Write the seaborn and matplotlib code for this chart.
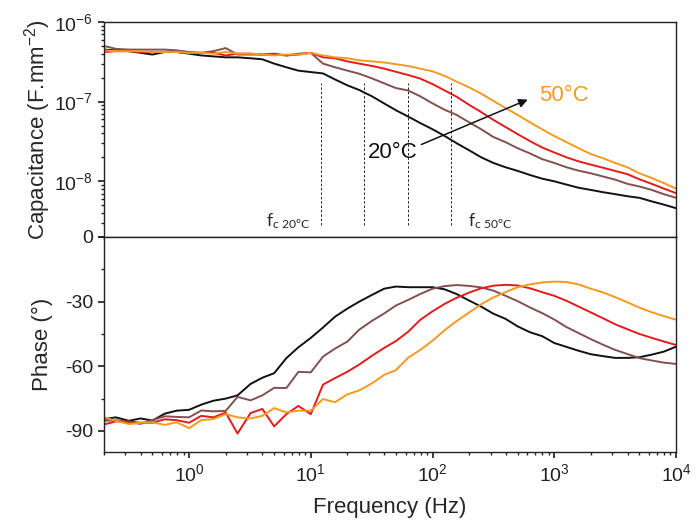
import numpy as np
import pandas as pd
import seaborn as sns
import matplotlib.pyplot as plt
import matplotlib.ticker as mticker

#%% data
freq_hz = [0.2, 0.25, 0.32, 0.4, 0.5, 0.63, 0.79, 1.0, 1.26, 1.58,
           2.0, 2.5, 3.2, 4.0, 5.0, 6.3, 7.9, 10, 12.6, 15.8,
           20, 25, 32, 40, 50, 63, 79, 100, 126, 158,
           200, 251, 316, 398, 501, 631, 794, 1000, 1259, 1585,
           1995, 2512, 3162, 3981, 5012, 6310, 7943, 10000]

temps = ["20°C", "30°C", "40°C", "50°C"]

# capacitance, F/mm^2
cap_20 = [4.5e-7, 4.4e-7, 4.3e-7, 4.1e-7, 3.9e-7, 4.2e-7, 4.2e-7, 4.0e-7, 3.8e-7, 3.7e-7,
          3.6e-7, 3.6e-7, 3.5e-7, 3.4e-7, 3.0e-7, 2.7e-7, 2.45e-7, 2.35e-7, 2.26e-7, 1.9e-7,
          1.6e-7, 1.4e-7, 1.16e-7, 9.5e-8, 7.8e-8, 6.5e-8, 5.4e-8, 4.5e-8, 3.7e-8, 3.0e-8,
          2.45e-8, 2.0e-8, 1.7e-8, 1.5e-8, 1.35e-8, 1.2e-8, 1.08e-8, 1.0e-8, 9.1e-9, 8.3e-9,
          7.8e-9, 7.3e-9, 6.9e-9, 6.5e-9, 6.2e-9, 5.6e-9, 5.1e-9, 4.6e-9]
cap_30 = [5.0e-7, 4.6e-7, 4.5e-7, 4.5e-7, 4.5e-7, 4.5e-7, 4.4e-7, 4.2e-7, 4.1e-7, 4.3e-7,
          4.7e-7, 3.9e-7, 3.9e-7, 3.9e-7, 3.9e-7, 3.8e-7, 4.0e-7, 4.1e-7, 3.0e-7, 2.7e-7,
          2.45e-7, 2.24e-7, 1.95e-7, 1.7e-7, 1.48e-7, 1.38e-7, 1.17e-7, 9.5e-8, 7.9e-8, 6.8e-8,
          5.5e-8, 4.5e-8, 3.6e-8, 3.1e-8, 2.6e-8, 2.24e-8, 1.9e-8, 1.7e-8, 1.5e-8, 1.36e-8,
          1.26e-8, 1.15e-8, 1.05e-8, 9.3e-9, 8.6e-9, 7.8e-9, 6.9e-9, 6.2e-9]
cap_40 = [4.2e-7, 4.3e-7, 4.3e-7, 4.2e-7, 4.2e-7, 4.2e-7, 4.2e-7, 4.1e-7, 4.1e-7, 4.1e-7,
          3.8e-7, 4.0e-7, 4.0e-7, 3.9e-7, 4.0e-7, 3.8e-7, 3.9e-7, 4.1e-7, 3.6e-7, 3.5e-7,
          3.2e-7, 3.0e-7, 2.8e-7, 2.6e-7, 2.37e-7, 2.16e-7, 1.95e-7, 1.66e-7, 1.38e-7, 1.15e-7,
          9.1e-8, 7.4e-8, 5.9e-8, 4.8e-8, 3.9e-8, 3.2e-8, 2.66e-8, 2.3e-8, 2.0e-8, 1.78e-8,
          1.62e-8, 1.48e-8, 1.35e-8, 1.23e-8, 1.06e-8, 9.3e-9, 8.1e-9, 7.1e-9]
cap_50 = [4.4e-7, 4.3e-7, 4.3e-7, 4.3e-7, 4.2e-7, 4.2e-7, 4.2e-7, 4.1e-7, 4.1e-7, 4.0e-7,
          4.2e-7, 4.0e-7, 4.0e-7, 3.9e-7, 3.8e-7, 3.9e-7, 3.9e-7, 4.1e-7, 3.8e-7, 3.6e-7,
          3.5e-7, 3.3e-7, 3.2e-7, 3.1e-7, 2.95e-7, 2.8e-7, 2.6e-7, 2.4e-7, 2.1e-7, 1.78e-7,
          1.51e-7, 1.26e-7, 1.02e-7, 8.3e-8, 6.8e-8, 5.5e-8, 4.5e-8, 3.7e-8, 3.1e-8, 2.6e-8,
          2.2e-8, 1.95e-8, 1.7e-8, 1.5e-8, 1.26e-8, 1.1e-8, 9.5e-9, 8.1e-9]

# phase, degrees
phase_20 = [-84.5, -83.7, -85.3, -84.2, -85.2, -82.0, -80.6, -80.2, -77.8, -76.0,
            -75.0, -73.5, -68.2, -65.3, -63.2, -56.2, -51.2, -46.8, -42.0, -37.0,
            -33.2, -30.0, -26.8, -24.0, -23.0, -23.3, -23.3, -23.3, -24.3, -26.5,
            -29.5, -32.3, -35.6, -38.0, -41.5, -44.2, -46.0, -49.2, -51.0, -52.8,
            -54.4, -55.3, -56.1, -56.1, -55.8, -54.6, -53.2, -50.9]
phase_30 = [-85.3, -85.0, -86.0, -86.7, -85.0, -83.2, -83.5, -83.7, -80.5, -80.9,
            -80.7, -74.2, -75.8, -73.5, -70.0, -70.1, -62.6, -62.8, -55.5, -51.8,
            -48.5, -43.0, -38.8, -35.5, -31.8, -29.2, -26.5, -24.0, -22.8, -22.3,
            -22.7, -23.4, -24.9, -27.3, -29.8, -32.7, -35.3, -38.3, -41.8, -44.6,
            -47.4, -50.0, -52.4, -54.3, -56.2, -57.3, -58.3, -58.9]
phase_40 = [-87.0, -85.6, -85.6, -86.2, -86.2, -84.6, -85.0, -86.2, -83.0, -83.7,
            -81.5, -91.2, -81.7, -79.8, -87.9, -82.2, -78.4, -82.2, -68.5, -65.5,
            -62.5, -59.2, -55.0, -51.5, -48.3, -44.0, -38.5, -34.5, -31.0, -28.2,
            -25.8, -23.8, -22.6, -22.2, -22.5, -23.8, -25.6, -27.3, -29.6, -32.3,
            -35.0, -37.7, -40.5, -42.8, -45.0, -46.8, -48.5, -50.1]
phase_50 = [-83.7, -85.3, -86.8, -86.2, -86.0, -87.2, -86.0, -88.7, -85.0, -84.5,
            -82.2, -83.7, -84.2, -83.0, -79.4, -81.4, -80.6, -80.6, -75.2, -76.7,
            -73.0, -71.2, -67.8, -64.0, -61.8, -56.0, -52.5, -48.1, -43.2, -39.0,
            -35.0, -31.2, -28.0, -25.6, -23.3, -22.0, -21.1, -20.7, -20.9, -22.0,
            -24.0, -25.7, -27.9, -30.3, -32.8, -34.9, -36.7, -38.4]

fc_freqs = [12.2, 27.6, 62.5, 141]   # dashed cut-off markers

colors = {"20°C": "#111111", "30°C": "#82504f", "40°C": "#e31b1b", "50°C": "#f39a1f"}

frames = []
for t, c, p in zip(temps, [cap_20, cap_30, cap_40, cap_50],
                   [phase_20, phase_30, phase_40, phase_50]):
    frames.append(pd.DataFrame({"freq": freq_hz, "cap": c, "phase": p, "temp": t}))
df = pd.concat(frames, ignore_index=True)

#%% style
sns.set_theme(style="ticks")
plt.rcParams.update({
    "font.family": ["Liberation Sans"],
    "mathtext.fontset": "custom",
    "mathtext.rm": "Liberation Sans",
    "mathtext.it": "Liberation Sans:italic",
    "axes.edgecolor": "#222222",
    "axes.linewidth": 1.0,
    "xtick.color": "#222222",
    "ytick.color": "#222222",
    "xtick.direction": "out",
    "ytick.direction": "out",
    "xtick.major.size": 4.5,
    "ytick.major.size": 4.5,
    "xtick.minor.size": 2.5,
    "ytick.minor.size": 2.5,
    "xtick.labelsize": 14,
    "ytick.labelsize": 14,
    "axes.labelsize": 16,
})

fig = plt.figure(figsize=(6.97, 5.27), dpi=100)
ax1 = fig.add_axes([0.1492, 0.5503, 0.8207, 0.408])
ax2 = fig.add_axes([0.1492, 0.1414, 0.8207, 0.4089])

sns.lineplot(data=df, x="freq", y="cap", hue="temp", palette=colors,
             estimator=None, legend=False, lw=1.4, ax=ax1)
sns.lineplot(data=df, x="freq", y="phase", hue="temp", palette=colors,
             estimator=None, legend=False, lw=1.4, ax=ax2)


def pow10(v, pos):
    if v < 5e-9:
        return "0"
    return r"$\mathdefault{10^{%d}}$" % round(np.log10(v))


for ax in (ax1, ax2):
    ax.set_xscale("log")
    ax.set_xlim(0.2, 1e4)
    ax.xaxis.set_major_locator(mticker.LogLocator(base=10, numticks=20))
    ax.xaxis.set_minor_locator(mticker.LogLocator(base=10, subs=np.arange(2, 10), numticks=20))
    ax.xaxis.set_minor_formatter(mticker.NullFormatter())
    for s in ax.spines.values():
        s.set_visible(True)

# capacitance panel
ax1.set_yscale("log")
ax1.set_ylim(2e-9, 1e-6)
ax1.yaxis.set_major_locator(mticker.FixedLocator([2e-9, 1e-8, 1e-7, 1e-6]))
ax1.yaxis.set_major_formatter(mticker.FuncFormatter(pow10))
ax1.yaxis.set_minor_locator(mticker.LogLocator(base=10, subs=np.arange(2, 10), numticks=20))
ax1.yaxis.set_minor_formatter(mticker.NullFormatter())
ax1.tick_params(axis="x", which="both", labelbottom=False)
ax1.set_xlabel("")
ax1.set_ylabel(r"Capacitance (F.mm$^{-2}$)")
ax1.yaxis.set_label_coords(-0.09, 0.5)

ax1.vlines(fc_freqs, 2.8e-9, 1.7e-7, colors="#222222", lw=0.7, linestyles=(0, (2.5, 2)))
ax1.text(4.3, 2.72e-9, r"$\mathdefault{f_{c\ 20°C}}$", fontfamily="Lato", fontsize=12.5)
ax1.text(194, 2.72e-9, r"$\mathdefault{f_{c\ 50°C}}$", fontfamily="Lato", fontsize=12.5)

ax1.annotate("", xy=(605, 1.06e-7), xytext=(81, 2.9e-8),
             arrowprops=dict(arrowstyle="-|>", color="#111111", lw=1.1,
                             mutation_scale=13, shrinkA=0, shrinkB=0))
ax1.text(75, 2.3e-8, "20°C", ha="right", va="center", fontsize=16, color="#111111")
ax1.text(745, 1.19e-7, "50°C", ha="left", va="center", fontsize=16, color=colors["50°C"])

# phase panel
ax2.set_ylim(-100, 0)
ax2.yaxis.set_major_locator(mticker.MultipleLocator(30))
ax2.yaxis.set_minor_locator(mticker.MultipleLocator(15))
ax2.yaxis.set_major_formatter(mticker.FuncFormatter(lambda v, p: "" if v >= 0 else "%d" % v))
ax2.xaxis.set_major_formatter(mticker.FuncFormatter(pow10))
ax2.set_xlabel("Frequency (Hz)", labelpad=8)
ax2.set_ylabel("Phase (°)")
ax2.yaxis.set_label_coords(-0.09, 0.5)

fig.savefig("out.png", dpi=100, facecolor="white")
